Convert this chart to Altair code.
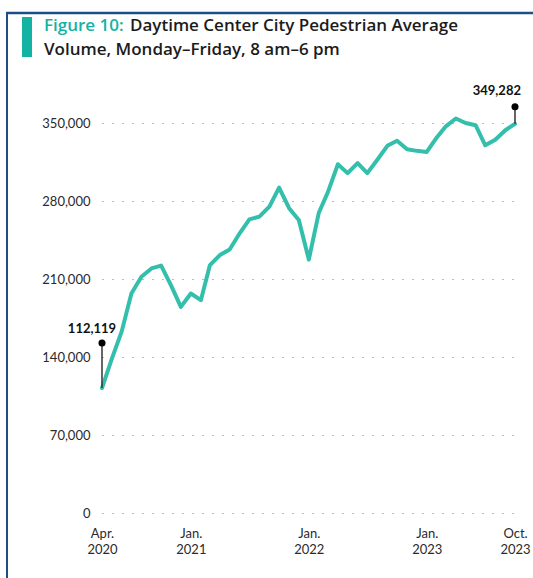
import altair as alt
import pandas as pd

months = pd.date_range("2020-04-01", "2023-10-01", freq="MS").strftime("%Y-%m-%dT00:00:00").tolist()
volume = [112119, 138000, 163000, 197000, 212000, 219500, 222000, 204000, 185000,
          197000, 191000, 222500, 231500, 236500, 251000, 263500, 266000, 275000,
          292000, 273500, 263000, 227500, 269500, 288000, 313000, 305000, 314000,
          305000, 317000, 329500, 334000, 326500, 325000, 324000, 337000, 347000,
          354000, 350000, 348000, 330000, 335000, 343500, 349282]
y_ticks = [0, 70000, 140000, 210000, 280000, 350000]
x_ticks = [(2020, 4), (2021, 1), (2022, 1), (2023, 1), (2023, 10)]

title_lead = "Figure 10:"
title_rest1 = "Daytime Center City Pedestrian Average"
title_line2 = "Volume, Monday\u2013Friday, 8 am\u20136 pm"

df = pd.DataFrame({"month": months, "volume": volume})
first = df.iloc[[0]].assign(label=lambda d: d["volume"].map("{:,}".format))
last = df.iloc[[-1]].assign(label=lambda d: d["volume"].map("{:,}".format))

FONT = "Lato"
TFONT = "Open Sans"
TEAL = "#33bfab"
DARK = "#1b1b1b"
NAVY = "#1d4f86"

x_scale = alt.Scale(domain=[alt.DateTime(year=2020, month=4, date=1),
                            alt.DateTime(year=2023, month=10, date=1)])
y_scale = alt.Scale(domain=[0, 350000], nice=False, zero=True)

x_axis = alt.Axis(values=[alt.DateTime(year=y, month=m, date=1) for y, m in x_ticks],
                  labelExpr="[timeFormat(datum.value, '%b') + '.', timeFormat(datum.value, '%Y')]",
                  title=None, ticks=False, domain=False, grid=False,
                  labelFont=FONT, labelFontSize=13, labelColor="#2a2a2a",
                  labelBaseline="top", labelPadding=14, labelLineHeight=16,
                  labelAlign="center", labelFlush=False, labelOverlap=False)
y_axis = alt.Axis(values=y_ticks, labelExpr="format(datum.value, ',d')", title=None,
                  ticks=False, domain=False,
                  grid=True, gridDash=[1, 9], gridColor="#777777", gridWidth=1,
                  labelFont=FONT, labelFontSize=13, labelColor="#2a2a2a",
                  labelPadding=12)


def xe():
    return alt.X("month:T", scale=x_scale, axis=x_axis)


def ye():
    return alt.Y("volume:Q", scale=y_scale, axis=y_axis)


line = alt.Chart(df).mark_line(color=TEAL, strokeWidth=4, strokeCap="round",
                               strokeJoin="round").encode(x=xe(), y=ye())


def annot(d, dot_off, lab_dy, lab_dx, align):
    base = alt.Chart(d)
    stem = base.mark_rule(color="#333333", strokeWidth=1.5, y2Offset=dot_off).encode(
        x=xe(), y=ye(), y2=alt.Y2("volume:Q"))
    dot = base.mark_point(filled=True, color="#000000", size=50, opacity=1,
                          yOffset=dot_off).encode(x=xe(), y=ye())
    lab = base.mark_text(font=FONT, fontSize=13, fontWeight="bold", color="#111111",
                         align=align, baseline="middle", dx=lab_dx, dy=lab_dy).encode(
        x=xe(), y=ye(), text="label:N")
    return [stem, dot, lab]


ann = annot(first, -45, -59, -10, "center") + annot(last, -17, -33, 6, "right")

deco_df = pd.DataFrame({"a": [0]})
bar = alt.Chart(deco_df).mark_rect(color="#12b3a3").encode(
    x=alt.value(-80), x2=alt.value(-70), y=alt.value(-106), y2=alt.value(-66))
top_border = alt.Chart(deco_df).mark_rule(color=NAVY, strokeWidth=2.5).encode(
    x=alt.value(-96), x2=alt.value(431), y=alt.value(-110))
left_border = alt.Chart(deco_df).mark_rule(color=NAVY, strokeWidth=2).encode(
    x=alt.value(-95), y=alt.value(-110), y2=alt.value(455))

t1 = alt.Chart(pd.DataFrame({"t": [title_lead]})).mark_text(
    font=TFONT, fontSize=17, fontWeight=600, color="#14b2a2", align="left",
    baseline="middle").encode(x=alt.value(-58), y=alt.value(-97), text="t:N")
t2 = alt.Chart(pd.DataFrame({"t": [title_rest1]})).mark_text(
    font=TFONT, fontSize=17, fontWeight=600, color=DARK, align="left",
    baseline="middle").encode(x=alt.value(28), y=alt.value(-97), text="t:N")
t3 = alt.Chart(pd.DataFrame({"t": [title_line2]})).mark_text(
    font=TFONT, fontSize=17, fontWeight=600, color=DARK, align="left",
    baseline="middle").encode(x=alt.value(-58), y=alt.value(-73), text="t:N")

chart = alt.layer(line, *ann, bar, top_border, left_border, t1, t2, t3).properties(
    width=413, height=390,
    padding={"left": 102, "top": 123, "right": 18, "bottom": 65},
    autosize=alt.AutoSizeParams(type="none"),
    background="white",
).configure_view(stroke=None)

chart.save("out.html", embed_options={"renderer": "svg", "actions": False})
